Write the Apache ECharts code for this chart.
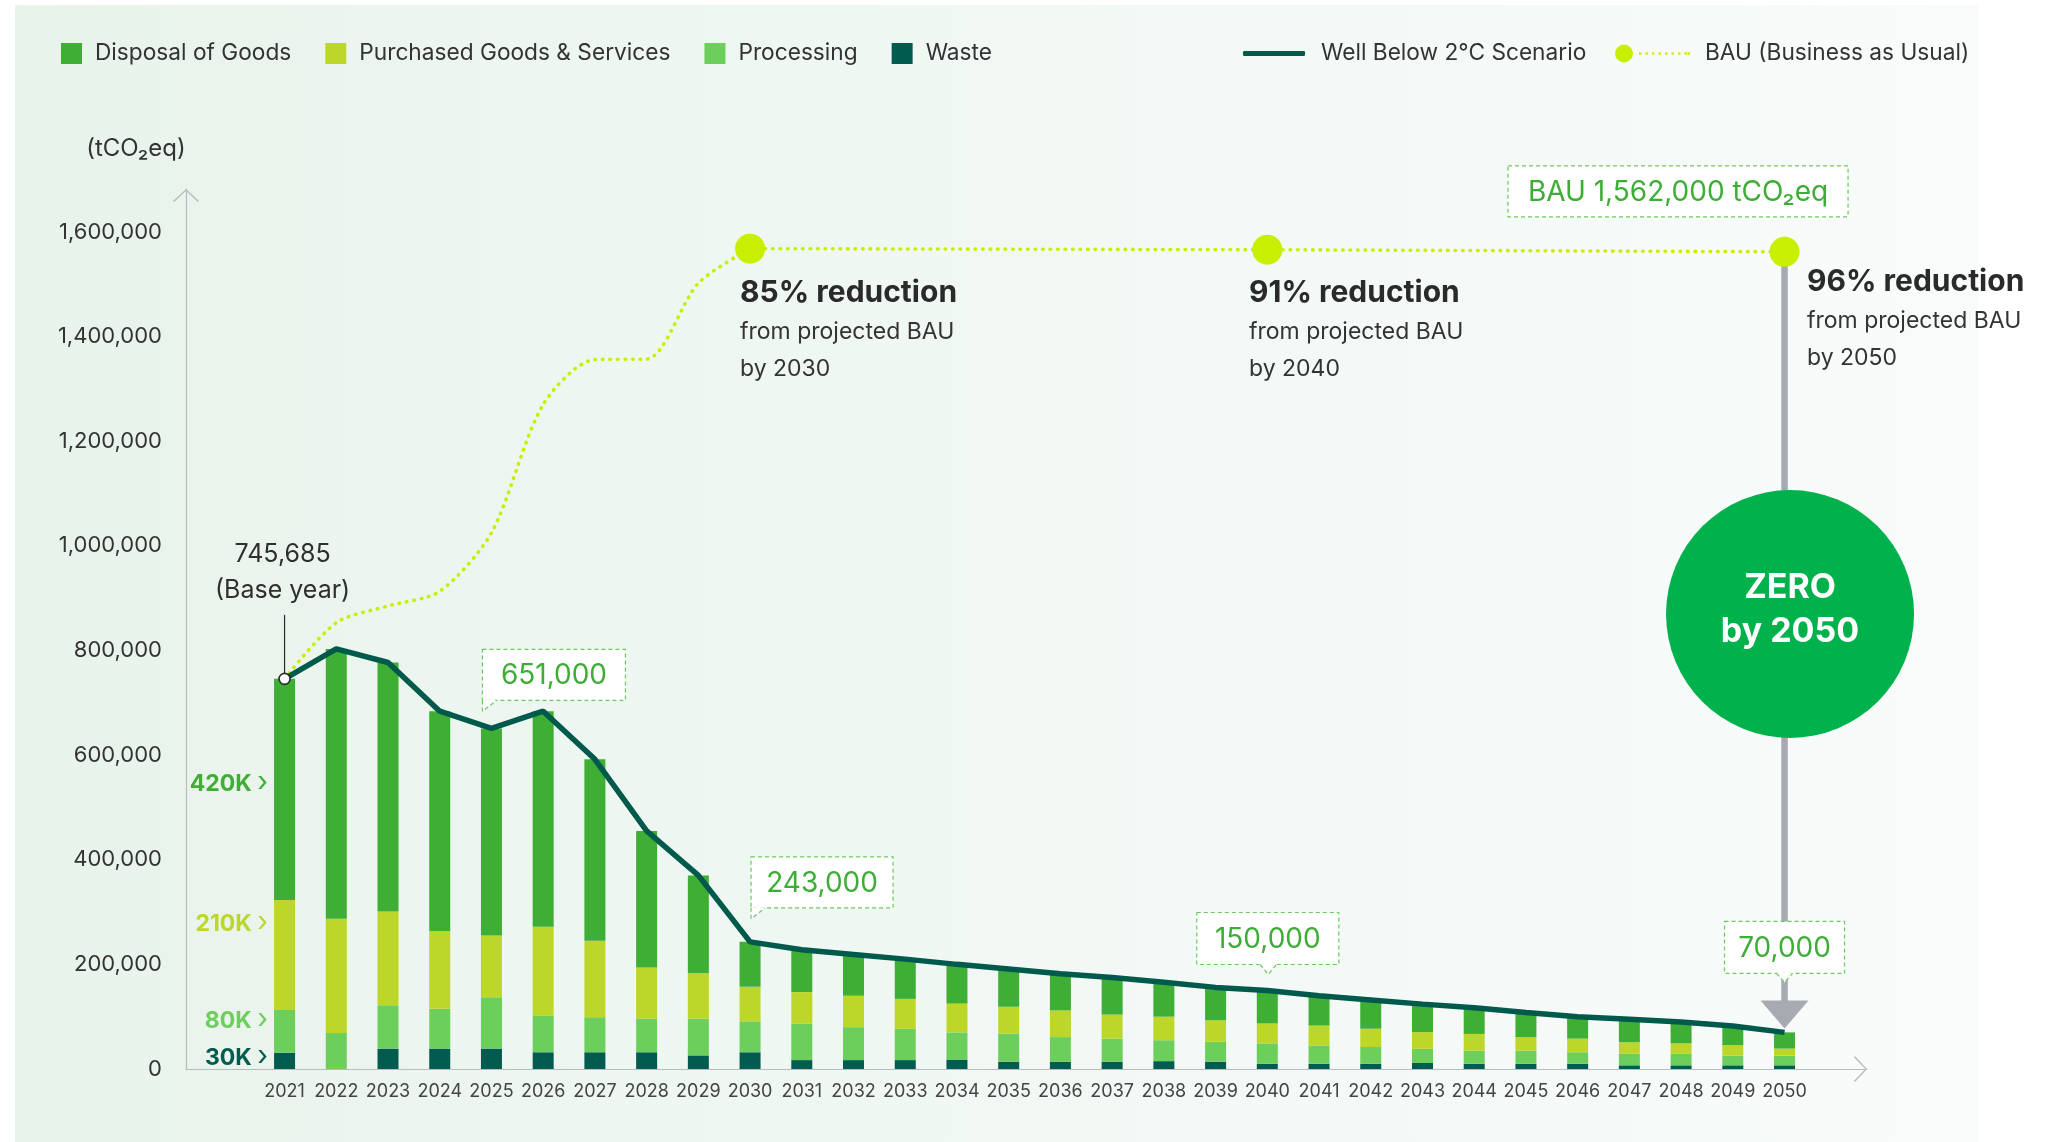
<!DOCTYPE html>
<html>
<head>
<meta charset="utf-8">
<script src="https://cdn.jsdelivr.net/npm/echarts/dist/echarts.min.js"></script>
<style>
html,body{margin:0;padding:0;background:#ffffff;}
#c{width:2047px;height:1142px;}
</style>
</head>
<body>
<div id="c"></div>
<script>
// ---------- DATA ----------
const years = ['2021','2022','2023','2024','2025','2026','2027','2028','2029','2030',
  '2031','2032','2033','2034','2035','2036','2037','2038','2039','2040',
  '2041','2042','2043','2044','2045','2046','2047','2048','2049','2050'];

const waste = [31000, 0, 39000, 39000, 39000, 32000, 32000, 32000, 26000, 32000,
  17000, 17000, 17000, 18000, 14000, 14000, 14000, 15000, 14000, 10000,
  10000, 10000, 11500, 10000, 10000, 10000, 7000, 7000, 7000, 7000];
const processing = [82000, 69000, 83000, 76000, 98000, 70000, 67000, 64000, 70000, 59000,
  70000, 63000, 60000, 52000, 54000, 47000, 44000, 40000, 38000, 39000,
  35000, 32000, 27000, 25000, 25000, 22000, 22000, 22000, 18500, 18500];
const purchased = [210000, 218000, 179000, 149000, 118000, 170000, 146000, 98000, 87000, 66000,
  60000, 60000, 57000, 55000, 51000, 51000, 46000, 45000, 41000, 38000,
  38000, 35000, 32000, 32000, 26000, 26000, 22000, 20000, 20000, 13500];
const disposal = [422685, 516000, 476000, 420000, 396000, 412000, 347000, 261000, 187000, 86000,
  81000, 79000, 76000, 75000, 72000, 70000, 71000, 66000, 63000, 63000,
  57000, 55000, 53500, 50000, 47000, 42000, 44000, 41000, 36500, 31000];
const wellBelow = [745685, 803000, 777000, 684000, 651000, 684000, 592000, 455000, 370000, 243000,
  228000, 219000, 210000, 200000, 191000, 182000, 175000, 166000, 156000, 150000,
  140000, 132000, 124000, 117000, 108000, 100000, 95000, 90000, 82000, 70000];
const bauCurve = [745685, 853000, 885000, 913000, 1025000, 1270000, 1356000, 1357000, 1502000, 1568000,
  null, null, null, null, null, null, null, null, null, null,
  null, null, null, null, null, null, null, null, null, null];
const bauFlat = [null, null, null, null, null, null, null, null, null, 1568000,
  null, null, null, null, null, null, null, null, null, 1566000,
  null, null, null, null, null, null, null, null, null, 1562000];

const segLabels = ['420K', '210K', '80K', '30K']; // disposal, purchased, processing, waste (2021)
const yTicks = [0, 200000, 400000, 600000, 800000, 1000000, 1200000, 1400000, 1600000];
const Y_MAX = 1682000;

// ---------- STYLE ----------
const FONT = 'Inter, "Noto Sans", "DejaVu Sans", sans-serif';
const C_DISP = '#3fae35', C_PURCH = '#bdd62a', C_PROC = '#6dcf5b', C_WASTE = '#015c4f';
const C_LINE = '#005a4b', C_BAU = '#c9ef00', C_AXIS = '#b7bcc1', C_CALL = '#3dae35';
const chevron = 'path://M0,12 L13,0 L26,12 L24.8,13 L13,1.7 L1.2,13 Z';
const bauIcon = 'path://M0,9 A9,9 0 1,1 18,9 A9,9 0 1,1 0,9 Z ' +
  'M24,7.8 h2.4 v2.4 h-2.4 Z M30.5,7.8 h2.4 v2.4 h-2.4 Z M37,7.8 h2.4 v2.4 h-2.4 Z ' +
  'M43.5,7.8 h2.4 v2.4 h-2.4 Z M50,7.8 h2.4 v2.4 h-2.4 Z M56.5,7.8 h2.4 v2.4 h-2.4 Z ' +
  'M63,7.8 h2.4 v2.4 h-2.4 Z M69.5,7.8 h2.4 v2.4 h-2.4 Z M72.6,7.8 h2.4 v2.4 h-2.4 Z';

function firstLabel(arr, idx, color, dy) {
  return arr.map((v, i) => i !== 0 ? v : {
    value: v,
    label: {
      show: true, position: 'left', distance: 6, offset: [0, dy],
      formatter: segLabels[idx] + ' {c|›}',
      color: color, fontSize: 23, fontWeight: 'bold', fontFamily: FONT,
      rich: { c: { fontSize: 28, fontWeight: 'normal', color: color, fontFamily: FONT, padding: [0, 0, 3, 0] } }
    }
  });
}

const LEG_TXT = { fontSize: 22.7, color: '#333', fontFamily: FONT };

const option = {
  animation: false,
  textStyle: { fontFamily: FONT },
  grid: [
    { left: 186, right: 180, top: 189, bottom: 73 },
    { left: 258.7, right: 236.6, top: 189, bottom: 73 }
  ],
  legend: [
    {
      data: ['Disposal of Goods', 'Purchased Goods & Services', 'Processing', 'Waste'],
      left: 61, top: 42, padding: 0, itemWidth: 21, itemHeight: 21, itemGap: 34, icon: 'rect',
      selectedMode: false,
      textStyle: Object.assign({ padding: [0, 0, 0, 8] }, LEG_TXT)
    },
    {
      data: ['Well Below 2°C Scenario'],
      left: 1243, top: 42, padding: 0, itemWidth: 62, itemHeight: 5, icon: 'roundRect',
      selectedMode: false,
      textStyle: Object.assign({ padding: [0, 0, 0, 11] }, LEG_TXT)
    },
    {
      data: ['BAU (Business as Usual)'],
      left: 1615, top: 42, padding: 0, itemWidth: 75, itemHeight: 18, icon: bauIcon,
      selectedMode: false,
      textStyle: Object.assign({ padding: [0, 0, 0, 10] }, LEG_TXT)
    }
  ],
  xAxis: [
    {
      gridIndex: 0, type: 'value', min: 0, max: 1,
      axisLine: { show: true, lineStyle: { color: C_AXIS, width: 1.2 }, symbol: ['none', chevron], symbolSize: [26, 13], symbolOffset: [0, -6.5] },
      axisTick: { show: false }, axisLabel: { show: false }, splitLine: { show: false }
    },
    {
      gridIndex: 1, type: 'category', data: years, boundaryGap: true,
      axisLine: { show: false }, axisTick: { show: false }, splitLine: { show: false },
      axisLabel: { fontSize: 18, color: '#444', margin: 14, interval: 0, fontFamily: FONT }
    }
  ],
  yAxis: [
    {
      gridIndex: 0, type: 'value', min: 0, max: Y_MAX, interval: 200000,
      axisLine: { show: true, lineStyle: { color: C_AXIS, width: 1.2 }, symbol: ['none', chevron], symbolSize: [26, 13], symbolOffset: [0, -6.5] },
      axisTick: { show: false }, splitLine: { show: false },
      axisLabel: {
        fontSize: 22, color: '#333', margin: 24, fontFamily: FONT,
        formatter: v => (yTicks.indexOf(v) >= 0 ? v.toLocaleString('en-US') : '')
      }
    },
    { gridIndex: 1, type: 'value', min: 0, max: Y_MAX, show: false, splitLine: { show: false } }
  ],
  series: [
    { name: 'Waste', type: 'bar', xAxisIndex: 1, yAxisIndex: 1, stack: 'total', barWidth: 21,
      itemStyle: { color: C_WASTE }, data: firstLabel(waste, 3, C_WASTE, -3) },
    { name: 'Processing', type: 'bar', xAxisIndex: 1, yAxisIndex: 1, stack: 'total', barWidth: 21,
      itemStyle: { color: C_PROC }, data: firstLabel(processing, 2, C_PROC, -10) },
    { name: 'Purchased Goods & Services', type: 'bar', xAxisIndex: 1, yAxisIndex: 1, stack: 'total', barWidth: 21,
      itemStyle: { color: C_PURCH }, data: firstLabel(purchased, 1, C_PURCH, -31) },
    { name: 'Disposal of Goods', type: 'bar', xAxisIndex: 1, yAxisIndex: 1, stack: 'total', barWidth: 21,
      itemStyle: { color: C_DISP }, data: firstLabel(disposal, 0, C_DISP, -5) },
    { name: 'BAU (Business as Usual)', type: 'line', xAxisIndex: 1, yAxisIndex: 1, z: 3,
      data: bauCurve, smooth: 0.28, symbol: 'none', connectNulls: false,
      lineStyle: { color: C_BAU, width: 3.6, type: [0.5, 7], cap: 'round' }, itemStyle: { color: C_BAU } },
    { name: 'BAU (Business as Usual)', type: 'line', xAxisIndex: 1, yAxisIndex: 1, z: 3,
      data: bauFlat, connectNulls: true, symbol: 'circle', symbolSize: 30, showSymbol: true,
      lineStyle: { color: C_BAU, width: 3.6, type: [0.5, 7], cap: 'round' }, itemStyle: { color: C_BAU } },
    { name: 'Well Below 2°C Scenario', type: 'line', xAxisIndex: 1, yAxisIndex: 1, z: 4,
      symbol: 'none', showSymbol: true,
      data: wellBelow.map((v, i) => i !== 0 ? v : {
        value: v, symbol: 'circle', symbolSize: 11,
        itemStyle: { color: '#ffffff', borderColor: '#2b2b2b', borderWidth: 1.6 }
      }),
      lineStyle: { color: C_LINE, width: 5.5 }, itemStyle: { color: C_LINE } }
  ]
};

const chart = echarts.init(document.getElementById('c'), null, { renderer: 'canvas' });
chart.setOption(option);

// ---------- ANNOTATIONS (anchored to data via the chart's own scales) ----------
const P = (i, v) => chart.convertToPixel({ seriesIndex: 0 }, [years[i], v]);
const g = [];
const T = (x, y, text, font, fill, align, extra) => ({
  type: 'text', x: x, y: y, z: 12, silent: true,
  style: Object.assign({ text: text, font: font, fill: fill, align: align || 'left', verticalAlign: 'middle' }, extra || {})
});

// panel background
g.push({ type: 'rect', z: -10, silent: true, shape: { x: 15, y: 5, width: 1963, height: 1137 },
  style: { fill: { type: 'linear', x: 0, y: 0, x2: 1, y2: 0,
    colorStops: [{ offset: 0, color: '#e8f3eb' }, { offset: 0.5, color: '#f1f8f4' }, { offset: 1, color: '#f8fbfa' }] } } });

// y axis unit
g.push(T(136, 149, '(tCO₂eq)', '24px ' + FONT, '#333', 'center'));

// base year annotation
const pb = P(0, wellBelow[0]);
g.push({ type: 'line', z: 5, silent: true, shape: { x1: pb[0], y1: pb[1] - 5.5, x2: pb[0], y2: pb[1] - 64 }, style: { stroke: '#2b2b2b', lineWidth: 1.2 } });
g.push(T(pb[0] - 2, pb[1] - 124, '745,685', '25px ' + FONT, '#2f2f2f', 'center'));
g.push(T(pb[0] - 2, pb[1] - 88, '(Base year)', '25px ' + FONT, '#2f2f2f', 'center'));

// callouts
function callout(left, top, w, h, text, tail, tipX, tipY) {
  const st = { stroke: '#6cc95e', lineWidth: 1.2, lineDash: [4, 3] };
  g.push({ type: 'rect', z: 11, silent: true, shape: { x: left, y: top, width: w, height: h }, style: Object.assign({ fill: '#ffffff' }, st) });
  const b = top + h;
  if (tail === 'left') {
    g.push({ type: 'polygon', z: 11, silent: true, shape: { points: [[left + 0.7, b - 0.7], [tipX, tipY], [left + 14, b - 0.7]] }, style: { fill: '#ffffff' } });
    g.push({ type: 'polyline', z: 12, silent: true, shape: { points: [[left, b], [tipX, tipY], [left + 14, b]] }, style: Object.assign({ fill: null }, st) });
  } else if (tail === 'bottom') {
    g.push({ type: 'polygon', z: 11, silent: true, shape: { points: [[tipX - 8, b - 0.8], [tipX, tipY], [tipX + 8, b - 0.8]] }, style: { fill: '#ffffff' } });
    g.push({ type: 'polyline', z: 12, silent: true, shape: { points: [[tipX - 8, b], [tipX, tipY], [tipX + 8, b]] }, style: Object.assign({ fill: null }, st) });
  }
  g.push(T(left + w / 2, top + h / 2 + 1, text, '28px ' + FONT, C_CALL, 'center', { z: 13 }));
}
const p25 = P(4, wellBelow[4]);
callout(p25[0] - 9, p25[1] - 79, 143, 51, '651,000', 'left', p25[0] - 9, p25[1] - 17);
const p30 = P(9, wellBelow[9]);
callout(p30[0] + 1, p30[1] - 85, 142, 51, '243,000', 'left', p30[0] + 1, p30[1] - 23);
const p40 = P(19, wellBelow[19]);
callout(p40[0] - 70.5, p40[1] - 78, 142, 52, '150,000', 'bottom', p40[0] + 1, p40[1] - 16);
const p50 = P(29, wellBelow[29]);

// gray arrow from BAU 2050 down to the 2050 value
const pB50 = P(29, bauFlat[29]);
g.push({ type: 'line', z: 1, silent: true, shape: { x1: pB50[0], y1: pB50[1], x2: pB50[0], y2: p50[1] - 30 }, style: { stroke: '#a5abb0', lineWidth: 6.5 } });
g.push({ type: 'polygon', z: 1, silent: true, shape: { points: [[pB50[0] - 24, p50[1] - 32], [pB50[0] + 24, p50[1] - 32], [pB50[0], p50[1] - 4]] }, style: { fill: '#a5abb0' } });

callout(p50[0] - 60, p50[1] - 111, 120, 52, '70,000', 'bottom', p50[0], p50[1] - 50);
callout(pB50[0] - 276.5, pB50[1] - 86, 340, 51, 'BAU 1,562,000 tCO₂eq', null);

// ZERO circle
g.push({ type: 'circle', z: 10, silent: true, shape: { cx: pB50[0] + 5.5, cy: 614, r: 124 }, style: { fill: '#00b14c' } });
g.push(T(pB50[0] + 5.5, 610, 'ZERO\nby 2050', 'bold 34px ' + FONT, '#ffffff', 'center', { lineHeight: 44, z: 13 }));

// reduction texts
function reduction(x, y, pct, yr) {
  g.push(T(x, y, pct + ' reduction', 'bold 30px ' + FONT, '#2a2a2a'));
  g.push(T(x, y + 39, 'from projected BAU', '23px ' + FONT, '#333'));
  g.push(T(x, y + 76, 'by ' + yr, '23px ' + FONT, '#333'));
}
reduction(740, 293, '85%', '2030');
reduction(1249, 293, '91%', '2040');
reduction(1807, 282, '96%', '2050');

chart.setOption({ graphic: g });
</script>
</body>
</html>
